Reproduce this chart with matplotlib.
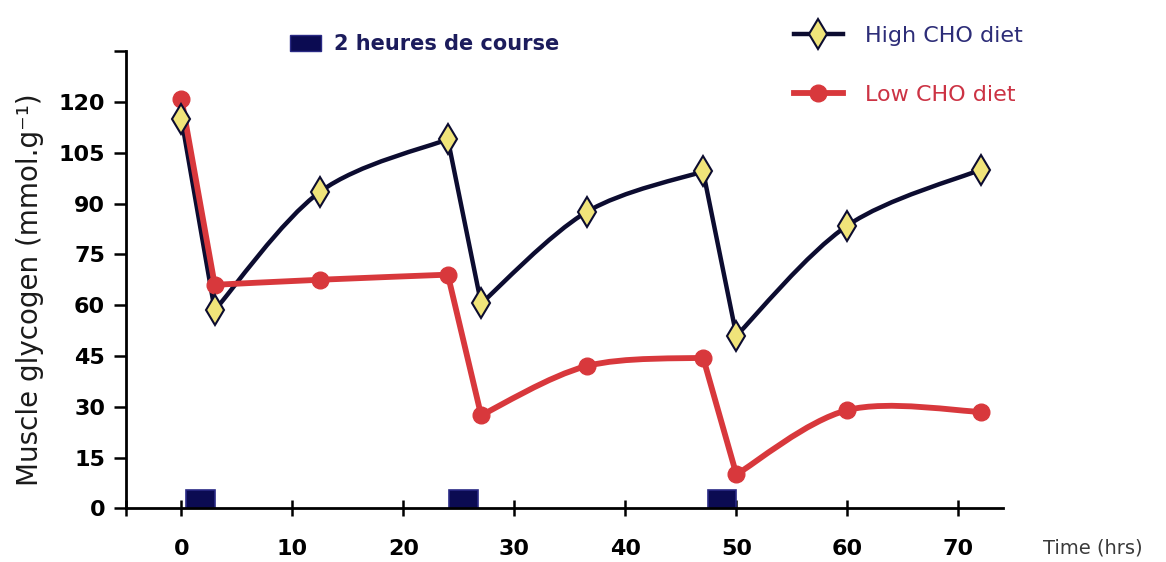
# -*-coding:Utf-8 -*
"""
Glycogène musculaire - régime riche / pauvre en glucides
Sortie: out.png
"""
import numpy as np
import matplotlib
matplotlib.use("Agg")
from matplotlib import pyplot as plt
from matplotlib.path import Path
from matplotlib.patches import PathPatch, Patch
from matplotlib.lines import Line2D

##############################################################################
# DONNÉES
##############################################################################

temps = [0, 3, 12.5, 24, 27, 36.5, 47, 50, 60, 72]
high_cho = [115, 58.5, 93.5, 109, 60.5, 87.5, 99.5, 51, 83.5, 100]
low_cho = [121, 66, 67.5, 69, 27.5, 42, 44.5, 10, 29, 28.5]

# Indices des points juste après chaque course (début des phases de récupération)
phases = [(1, 3), (4, 6), (7, 9)]

# Périodes de course (début en h, durée, hauteur du repère)
course_debut = [0.4, 24.1, 47.4]
course_duree = 2.6
course_hauteur = 5.5

x_ticks = [0, 10, 20, 30, 40, 50, 60, 70]
y_ticks = [0, 15, 30, 45, 60, 75, 90, 105, 120]

# Couleurs
NAVY = '#0c0c30'
JAUNE = '#f0e47a'
ROUGE = '#d8383c'

##############################################################################
# FONCTIONS
##############################################################################

def courbe(x, y):
    """Chutes en segments droits, récupérations lissées (Bézier, tension 1/6)"""
    pts = np.column_stack([x, y]).astype(float)
    verts = [pts[0]]
    codes = [Path.MOVETO]
    i = 0
    for a, b in phases:
        # segment droit jusqu'au début de la phase
        while i < a:
            i += 1
            verts.append(pts[i])
            codes.append(Path.LINETO)
        # phase lissée
        for k in range(a, b):
            p0 = pts[k - 1] if k > a else pts[k]
            p1 = pts[k]
            p2 = pts[k + 1]
            p3 = pts[k + 2] if k + 1 < b else pts[k + 1]
            verts += [p1 + (p2 - p0) / 6, p2 - (p3 - p1) / 6, p2]
            codes += [Path.CURVE4] * 3
        i = b
    return Path(verts, codes)

##############################################################################
# TRACÉ
##############################################################################

fig = plt.figure(figsize=(11.66, 5.62), dpi=100)
ax = fig.add_axes([0.108, 0.0955, 0.752, 0.8135])

# Repères de course
ax.bar(course_debut, course_hauteur, width=course_duree, align='edge',
       color='#0b0b52', edgecolor='#2a2a85', linewidth=1.2, zorder=2)

# High CHO
ax.add_patch(PathPatch(courbe(temps, high_cho), fill=False,
                       edgecolor=NAVY, linewidth=3.2, zorder=3,
                       joinstyle='round', capstyle='round'))
# Low CHO
ax.add_patch(PathPatch(courbe(temps, low_cho), fill=False,
                       edgecolor=ROUGE, linewidth=4.2, zorder=4,
                       joinstyle='round', capstyle='round'))
ax.plot(temps, low_cho, 'o', color=ROUGE, markersize=12, zorder=5)
ax.plot(temps, high_cho, 'd', markerfacecolor=JAUNE, markeredgecolor=NAVY,
        markeredgewidth=1.5, markersize=15, zorder=6)

# Axes
ax.set_xlim(-5, 74)
ax.set_ylim(0, 135)
ax.set_xticks([-5] + x_ticks)
ax.set_xticklabels([''] + [str(v) for v in x_ticks])
ax.set_yticks(y_ticks + [135])
ax.set_yticklabels([str(v) for v in y_ticks] + [''])

for s in ['top', 'right']:
    ax.spines[s].set_visible(False)
for s in ['left', 'bottom']:
    ax.spines[s].set_linewidth(2)

ax.tick_params(axis='x', direction='inout', length=12, width=1.8, pad=16,
               labelsize=16)
ax.tick_params(axis='y', direction='out', length=9, width=1.8, pad=6,
               labelsize=16)
for lab in ax.get_xticklabels() + ax.get_yticklabels():
    lab.set_fontweight('bold')

fig.text(30 / 1166, 0.484, 'Muscle glycogen (mmol.g⁻¹)', rotation=90,
         ha='center', va='center', fontsize=20, color='#1a1a1a')
fig.text(1043 / 1166, 1 - 548 / 562, 'Time (hrs)', ha='left', va='center',
         fontsize=14, color='#3a3a3a')

# Légendes
leg1 = fig.legend(handles=[Patch(facecolor='#0b0b52', edgecolor='#2a2a85')],
                  labels=['2 heures de course'], loc='center left',
                  bbox_to_anchor=(271 / 1166, 1 - 44 / 562), frameon=False,
                  handlelength=1.5, handleheight=0.8, handletextpad=0.6,
                  prop={'size': 15, 'weight': 'bold'})
leg1.get_texts()[0].set_color('#1c1c5c')

handles = [
    Line2D([], [], color=NAVY, linewidth=3.2, marker='d', markersize=15,
           markerfacecolor=JAUNE, markeredgecolor=NAVY, markeredgewidth=1.5),
    Line2D([], [], color=ROUGE, linewidth=4.2, marker='o', markersize=12),
]
leg2 = fig.legend(handles=handles, labels=['High CHO diet', 'Low CHO diet'],
                  loc='upper left', bbox_to_anchor=(774 / 1166, 1 - 6 / 562),
                  frameon=False, handlelength=2.2, handletextpad=1.0,
                  labelspacing=1.75, prop={'size': 16})
leg2.get_texts()[0].set_color('#2d2d78')
leg2.get_texts()[1].set_color('#cc3344')

fig.savefig('out.png', dpi=100)
plt.close(fig)
